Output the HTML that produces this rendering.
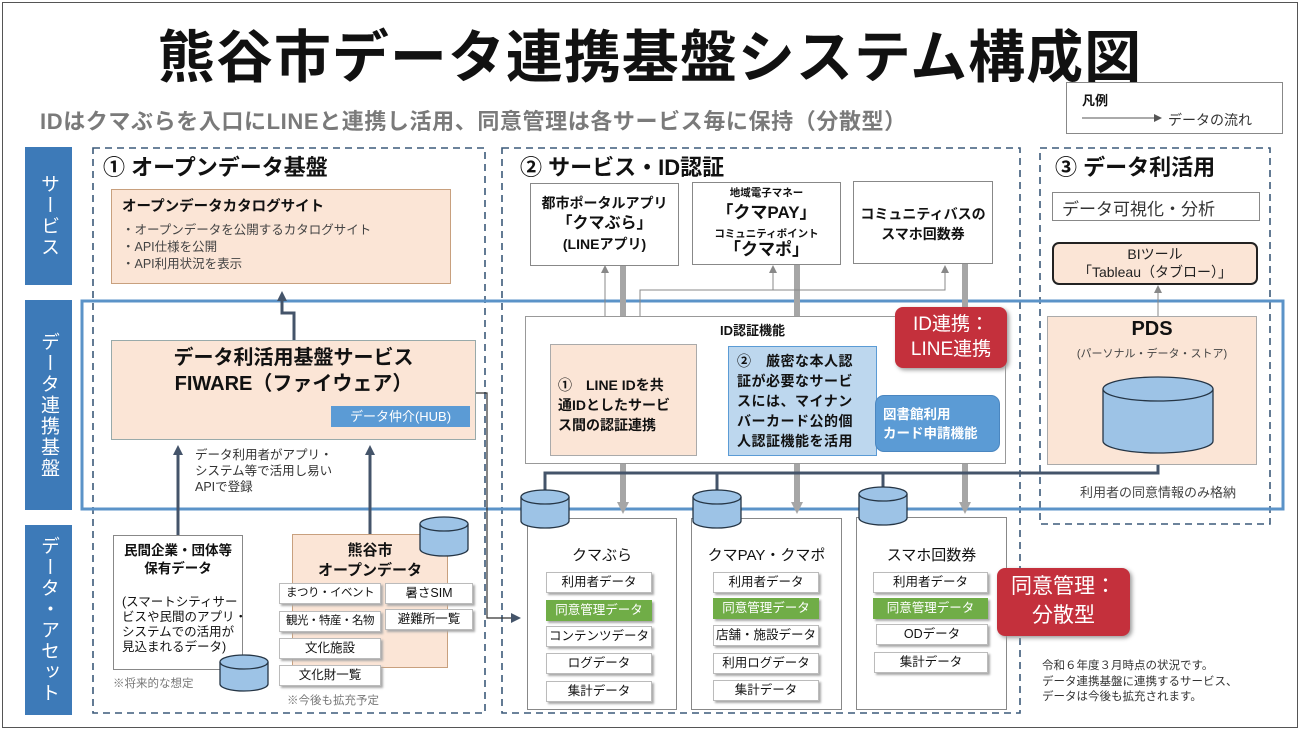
<!DOCTYPE html>
<html><head><meta charset="utf-8"><style>
body{margin:0;background:#fff;}
#c{position:relative;width:1300px;height:731px;overflow:hidden;font-family:"Liberation Sans","Noto Sans CJK JP",sans-serif;color:#111;}
.a{position:absolute;box-sizing:border-box;}
.t{position:absolute;white-space:nowrap;}
.side{position:absolute;left:25px;width:47px;background:#3d7ab8;color:#fff;font-size:19px;writing-mode:vertical-rl;display:flex;align-items:center;justify-content:center;letter-spacing:2px;}
.peach{background:#fbe5d6;border:1px solid #c8a07e;}
.wb{background:#fff;border:1px solid #888;}
.it{position:absolute;box-sizing:border-box;width:106px;height:21px;background:#fff;border:1px solid #bbb;box-shadow:2px 2px 2px #aaa;font-size:12.5px;text-align:center;line-height:19px;white-space:nowrap;overflow:hidden;}
.sm{font-size:11.5px;letter-spacing:-0.5px;}
.g{background:#70ad47;color:#fff;border-color:#70ad47;}
.ds{position:absolute;box-sizing:border-box;border:1px solid #888;background:#fff;}
.c{text-align:center;}
</style></head><body><div id="c">
<div class="a" style="left:2px;top:2px;width:1296px;height:726px;border:1px solid #555;"></div>
<div class="t" style="left:0;width:1300px;text-align:center;top:12px;font-size:57px;font-weight:bold;letter-spacing:1px;">熊谷市データ連携基盤システム構成図</div>
<div class="t" style="left:40px;top:104px;font-size:22px;font-weight:bold;color:#7a7a7a;letter-spacing:0.6px;">IDはクマぶらを入口にLINEと連携し活用、同意管理は各サービス毎に保持（分散型）</div>
<div class="a" style="left:1066px;top:82px;width:217px;height:52px;border:1px solid #888;"></div>
<div class="t" style="left:1082px;top:90px;font-size:13px;font-weight:bold;">凡例</div>
<div class="t" style="left:1168px;top:110px;font-size:14px;color:#333;">データの流れ</div>

<div class="side" style="top:147px;height:138px;">サービス</div>
<div class="side" style="top:300px;height:210px;">データ連携基盤</div>
<div class="side" style="top:525px;height:190px;">データ・アセット</div>

<svg class="a" style="left:0;top:0" width="1300" height="731">
<defs>
<marker id="ah" markerWidth="8" markerHeight="8" refX="6" refY="4" orient="auto" markerUnits="userSpaceOnUse"><path d="M0,0L8,4L0,8z" fill="#555"/></marker>
<marker id="ad" markerWidth="10" markerHeight="10" refX="7" refY="5" orient="auto" markerUnits="userSpaceOnUse"><path d="M0,0L10,5L0,10z" fill="#44546a"/></marker>
<marker id="ag" markerWidth="12" markerHeight="12" refX="6" refY="6" orient="auto" markerUnits="userSpaceOnUse"><path d="M0,0L12,6L0,12z" fill="#a6a6a6"/></marker>
</defs>
<line x1="1140" y1="118" x2="1160" y2="118" stroke="#555" stroke-width="1" marker-end="url(#ah)"/>
<line x1="1082" y1="118" x2="1150" y2="118" stroke="#555" stroke-width="1"/>
<g fill="none" stroke="#3c5a7a" stroke-width="1.6" stroke-dasharray="7,5">
<rect x="93" y="148" width="392" height="565"/>
<rect x="502" y="148" width="518" height="565"/>
<rect x="1040" y="148" width="230" height="376"/>
</g>
<rect x="82" y="301" width="1201" height="208" fill="none" stroke="#5b93c8" stroke-width="3"/>
<g stroke="#a6a6a6" stroke-width="6">
<line x1="623" y1="266" x2="623" y2="508" marker-end="url(#ag)"/>
<line x1="797" y1="265" x2="797" y2="508" marker-end="url(#ag)"/>
<line x1="965" y1="264" x2="965" y2="508" marker-end="url(#ag)"/>
</g>
<g stroke="#888" stroke-width="1" fill="none">
<line x1="605" y1="272" x2="605" y2="352"/>
<path d="M640,352 V290 H945 V272"/>
<line x1="773" y1="290" x2="773" y2="272"/>
<line x1="700" y1="400" x2="725" y2="400" stroke-dasharray="2,2"/>
<line x1="1158" y1="316" x2="1158" y2="292"/>
</g>
<g fill="#888"><path d="M601,273L605,265L609,273z"/><path d="M601,350L605,358L609,350z"/><path d="M636,350L640,358L644,350z"/><path d="M769,273L773,265L777,273z"/><path d="M941,273L945,265L949,273z"/><path d="M699,396L693,400L699,404z"/><path d="M726,396L732,400L726,404z"/><path d="M1154,293L1158,285L1162,293z"/></g>
<g stroke="#44546a" stroke-width="3" fill="none">
<path d="M294,340 V313 H282 V294" marker-end="url(#ad)"/>
<line x1="178" y1="535" x2="178" y2="448" marker-end="url(#ad)"/>
<line x1="370" y1="534" x2="370" y2="448" marker-end="url(#ad)"/>
<path d="M545,492 V473 H1158 V458" marker-end="url(#ad)"/>
<line x1="717" y1="473" x2="717" y2="492"/>
<line x1="883" y1="473" x2="883" y2="488"/>
</g>
<path d="M476,393 H487 V618 H518" stroke="#333" stroke-width="1.2" fill="none" marker-end="url(#ad)"/>
</svg>

<div class="t" style="left:103px;top:150px;font-size:22px;font-weight:bold;">① オープンデータ基盤</div>
<div class="a peach" style="left:111px;top:189px;width:340px;height:95px;"></div>
<div class="t" style="left:122px;top:195px;font-size:14.5px;font-weight:bold;">オープンデータカタログサイト</div>
<div class="t" style="left:122px;top:222px;font-size:12.5px;color:#444;line-height:17px;">・オープンデータを公開するカタログサイト<br>・API仕様を公開<br>・API利用状況を表示</div>
<div class="a peach" style="left:111px;top:340px;width:365px;height:100px;border-color:#9aa;"></div>
<div class="t c" style="left:111px;width:365px;top:345px;font-size:20px;font-weight:bold;line-height:26px;">データ利活用基盤サービス<br>FIWARE（ファイウェア）</div>
<div class="a" style="left:331px;top:406px;width:139px;height:21px;background:#5b9bd5;color:#fff;font-size:13px;text-align:center;line-height:21px;">データ仲介(HUB)</div>
<div class="t" style="left:195px;top:447px;font-size:12.5px;color:#333;line-height:16px;">データ利用者がアプリ・<br>システム等で活用し易い<br>APIで登録</div>
<div class="a wb" style="left:113px;top:535px;width:130px;height:135px;"></div>
<div class="t c" style="left:113px;width:130px;top:542px;font-size:13.5px;font-weight:bold;line-height:18px;">民間企業・団体等<br>保有データ</div>
<div class="t" style="left:122px;top:595px;font-size:12.5px;line-height:15px;"> (スマートシティサー<br>ビスや民間のアプリ・<br>システムでの活用が<br>見込まれるデータ)</div>
<div class="t" style="left:113px;top:675px;font-size:11.5px;color:#777;">※将来的な想定</div>
<div class="a peach" style="left:292px;top:534px;width:156px;height:134px;"></div>
<div class="t c" style="left:292px;width:156px;top:541px;font-size:15px;font-weight:bold;line-height:20px;">熊谷市<br>オープンデータ</div>
<div class="it sm" style="left:279px;top:583px;width:102px;">まつり・イベント</div>
<div class="it" style="left:385px;top:583px;width:88px;">暑さSIM</div>
<div class="it sm" style="left:279px;top:611px;width:102px;">観光・特産・名物</div>
<div class="it" style="left:385px;top:609px;width:88px;">避難所一覧</div>
<div class="it" style="left:279px;top:638px;width:102px;">文化施設</div>
<div class="it" style="left:279px;top:665px;width:102px;">文化財一覧</div>
<div class="t" style="left:287px;top:692px;font-size:11.5px;color:#777;">※今後も拡充予定</div>

<div class="t" style="left:520px;top:150px;font-size:22px;font-weight:bold;">② サービス・ID認証</div>
<div class="a wb" style="left:530px;top:183px;width:149px;height:83px;"></div>
<div class="t c" style="left:530px;width:149px;top:193px;font-size:14px;font-weight:bold;line-height:20px;">都市ポータルアプリ<br><span style="font-size:16px">「クマぶら」</span><br>(LINEアプリ)</div>
<div class="a wb" style="left:692px;top:182px;width:149px;height:83px;"></div>
<div class="t c" style="left:692px;width:149px;top:184px;font-size:10.5px;font-weight:bold;line-height:19px;">地域電子マネー<br><span style="font-size:17px">「クマPAY」</span><br>コミュニティポイント<br><span style="font-size:17px;position:relative;top:-4px">「クマポ」</span></div>
<div class="a wb" style="left:853px;top:181px;width:140px;height:83px;"></div>
<div class="t c" style="left:853px;width:140px;top:204px;font-size:14px;font-weight:bold;line-height:20px;">コミュニティバスの<br>スマホ回数券</div>
<div class="a" style="left:525px;top:316px;width:481px;height:148px;background:#fff;border:1px solid #999;"></div>
<div class="t" style="left:720px;top:320px;font-size:13px;font-weight:bold;">ID認証機能</div>
<div class="a peach" style="left:550px;top:344px;width:147px;height:112px;border-color:#aaa;"></div>
<div class="t" style="left:558px;top:375px;font-size:14px;font-weight:bold;line-height:20px;">①　LINE IDを共<br>通IDとしたサービ<br>ス間の認証連携</div>
<div class="a" style="left:728px;top:346px;width:149px;height:110px;background:#bdd7ee;border:1px solid #5b9bd5;"></div>
<div class="t" style="left:737px;top:351px;font-size:14px;font-weight:bold;line-height:20px;letter-spacing:0.5px;">②　厳密な本人認<br>証が必要なサービ<br>スには、マイナン<br>バーカード公的個<br>人認証機能を活用</div>
<div class="a" style="left:875px;top:395px;width:125px;height:57px;background:#5b9bd5;border-radius:9px;border:1px solid #4a86c0;"></div>
<div class="t" style="left:883px;top:405px;font-size:13.5px;font-weight:bold;color:#fff;line-height:19px;">図書館利用<br>カード申請機能</div>
<div class="a" style="left:895px;top:307px;width:112px;height:61px;background:#c4303c;border-radius:8px;box-shadow:2px 2px 4px #999;"></div>
<div class="t c" style="left:895px;width:112px;top:312px;font-size:19px;color:#fff;line-height:25px;">ID連携：<br>LINE連携</div>

<div class="ds" style="left:527px;top:518px;width:150px;height:192px;"></div>
<div class="ds" style="left:691px;top:518px;width:151px;height:192px;"></div>
<div class="ds" style="left:856px;top:517px;width:151px;height:193px;"></div>
<div class="t c" style="left:527px;width:150px;top:544px;font-size:15px;">クマぶら</div>
<div class="t c" style="left:691px;width:151px;top:544px;font-size:15px;">クマPAY・クマポ</div>
<div class="t c" style="left:856px;width:151px;top:544px;font-size:15px;">スマホ回数券</div>
<div class="it" style="left:546px;top:572px;">利用者データ</div>
<div class="it g" style="left:546px;top:600px;">同意管理データ</div>
<div class="it" style="left:546px;top:626px;">コンテンツデータ</div>
<div class="it" style="left:546px;top:653px;">ログデータ</div>
<div class="it" style="left:546px;top:681px;">集計データ</div>
<div class="it" style="left:713px;top:572px;">利用者データ</div>
<div class="it g" style="left:713px;top:598px;">同意管理データ</div>
<div class="it" style="left:713px;top:625px;">店舗・施設データ</div>
<div class="it" style="left:713px;top:653px;">利用ログデータ</div>
<div class="it" style="left:713px;top:680px;">集計データ</div>
<div class="it" style="left:873px;top:572px;width:115px;">利用者データ</div>
<div class="it g" style="left:873px;top:598px;width:115px;">同意管理データ</div>
<div class="it" style="left:876px;top:624px;width:112px;">ODデータ</div>
<div class="it" style="left:874px;top:652px;width:114px;">集計データ</div>
<div class="a" style="left:997px;top:568px;width:133px;height:68px;background:#c4303c;border-radius:8px;box-shadow:2px 2px 4px #999;"></div>
<div class="t c" style="left:997px;width:133px;top:572px;font-size:21px;color:#fff;line-height:29px;">同意管理：<br>分散型</div>
<div class="t" style="left:1042px;top:659px;font-size:11.5px;color:#333;line-height:15.5px;">令和６年度３月時点の状況です。<br>データ連携基盤に連携するサービス、<br>データは今後も拡充されます。</div>

<div class="t" style="left:1055px;top:150px;font-size:22px;font-weight:bold;">③ データ利活用</div>
<div class="a wb" style="left:1052px;top:192px;width:208px;height:29px;"></div>
<div class="t" style="left:1062px;top:195px;font-size:17px;color:#333;">データ可視化・分析</div>
<div class="a" style="left:1052px;top:242px;width:206px;height:43px;background:#fbe5d6;border:2px solid #222;border-radius:7px;"></div>
<div class="t c" style="left:1052px;width:206px;top:245px;font-size:14px;line-height:18px;color:#222;">BIツール<br>「Tableau（タブロー）」</div>
<div class="a peach" style="left:1047px;top:316px;width:210px;height:149px;border-color:#aaa;"></div>
<div class="t c" style="left:1047px;width:210px;top:318px;font-size:20px;font-weight:bold;">PDS</div>
<div class="t c" style="left:1047px;width:210px;top:345px;font-size:11px;color:#444;">(パーソナル・データ・ストア)</div>
<div class="t c" style="left:1040px;width:236px;top:482px;font-size:13px;color:#444;">利用者の同意情報のみ格納</div>

<svg class="a" style="left:0;top:0" width="1300" height="731">
<g fill="#9dc3e6" stroke="#253545" stroke-width="1.3">
<path d="M1103,389 V441 A55,12 0 0 0 1213,441 V389"/><ellipse cx="1158" cy="389" rx="55" ry="12"/>
<path d="M420,524 V549 A24,7 0 0 0 468,549 V524"/><ellipse cx="444" cy="524" rx="24" ry="7"/>
<path d="M220,662 V684 A24,7 0 0 0 268,684 V662"/><ellipse cx="244" cy="662" rx="24" ry="7"/>
<path d="M521,497 V521 A24,7 0 0 0 569,521 V497"/><ellipse cx="545" cy="497" rx="24" ry="7"/>
<path d="M693,497 V521 A24,7 0 0 0 741,521 V497"/><ellipse cx="717" cy="497" rx="24" ry="7"/>
<path d="M859,494 V518 A24,7 0 0 0 907,518 V494"/><ellipse cx="883" cy="494" rx="24" ry="7"/>
</g>
</svg>
</div></body></html>
